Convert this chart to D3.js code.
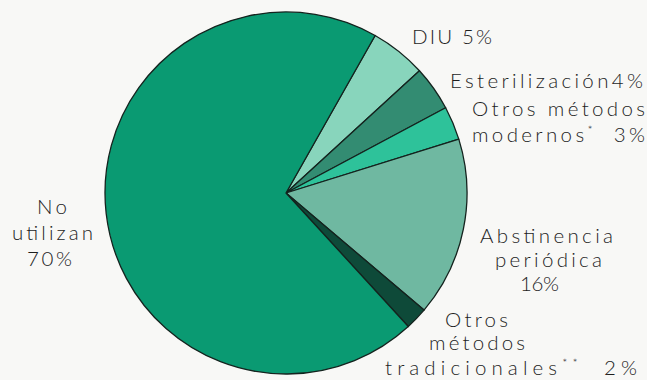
<!DOCTYPE html>
<html>
<head>
<meta charset="utf-8">
<script src="https://cdn.jsdelivr.net/npm/d3@7"></script>
<style>
  html, body { margin: 0; padding: 0; background: #f8f8f6; }
  svg { display: block; }
  text { font-family: "Lato", "DejaVu Sans", sans-serif; font-weight: 300; fill: #1e1e1e; }
</style>
</head>
<body>
<svg id="chart" width="647" height="380"></svg>
<script>
// Métodos anticonceptivos: categorías y porcentajes (sentido horario)
const categories = ["DIU", "Esterilización", "Otros métodos modernos", "Abstinencia periódica", "Otros métodos tradicionales", "No utilizan"];
const values = [5, 4, 3, 16, 2, 70];
const colors = ["#88d5bc", "#338c72", "#2ec29a", "#6fb8a1", "#0e4a39", "#0a9a72"];

// Etiquetas: líneas de texto de cada sector; los asteriscos van como superíndice
const labelLines = [
  [["DIU 5%"]],
  [["Esterilización4%"]],
  [["Otros métodos"], ["modernos", "*", "  3%"]],
  [["Abstinencia"], ["periódica"], ["16%"]],
  [["Otros"], ["métodos"], ["tradicionales", "**", "  2%"]],
  [["No"], ["utilizan"], ["70%"]]
];

// Colocación de cada línea de etiqueta: [x, y de la línea base, ancho]
const labelLayout = [
  [[412, 44, 80]],
  [[450, 88, 193]],
  [[472, 116, 173], [472, 142, 173]],
  [[480, 243, 133], [495, 267, 107], [520, 291, 39]],
  [[445, 327, 63], [429, 350, 96], [385, 375, 252]],
  [[37, 214, 30], [12, 240, 81], [27, 266, 45]]
];

const svg = d3.select("#chart");
const cx = 286, cy = 193, radius = 181;
const startDeg = 29.5;

const pie = d3.pie()
  .sort(null)
  .value(d => d)
  .startAngle(startDeg * Math.PI / 180)
  .endAngle(startDeg * Math.PI / 180 + 2 * Math.PI);

const arc = d3.arc().innerRadius(0).outerRadius(radius);

const g = svg.append("g").attr("transform", `translate(${cx},${cy})`);

g.selectAll("path.slice")
  .data(pie(values))
  .join("path")
  .attr("class", "slice")
  .attr("d", arc)
  .attr("fill", (d, i) => colors[i])
  .attr("stroke", "#14231e")
  .attr("stroke-width", 1.3)
  .attr("stroke-linejoin", "round");

// Etiquetas
labelLines.forEach((lines, ci) => {
  lines.forEach((parts, li) => {
    const [x, y, w] = labelLayout[ci][li];
    const t = svg.append("text")
      .attr("x", x)
      .attr("y", y)
      .attr("font-size", 20.5)
      .attr("textLength", w)
      .attr("lengthAdjust", "spacing")
      .attr("xml:space", "preserve");
    parts.forEach((p, pi) => {
      const sup = p.startsWith("*");
      const ts = t.append("tspan").text(p);
      if (sup) ts.attr("font-size", 12).attr("dy", -8);
      else if (pi > 0 && parts[pi - 1].startsWith("*")) ts.attr("dy", 8);
    });
  });
});
</script>
</body>
</html>
